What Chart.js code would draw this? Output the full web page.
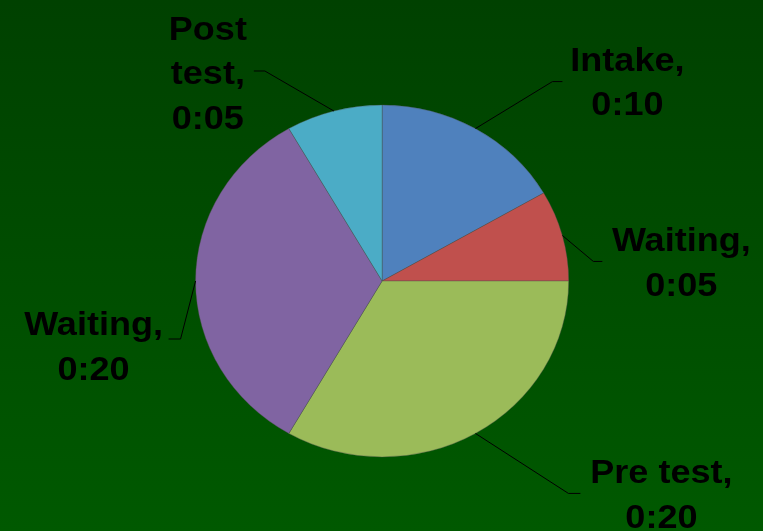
<!DOCTYPE html>
<html>
<head>
<meta charset="utf-8">
<script src="https://cdn.jsdelivr.net/npm/chart.js@4/dist/chart.umd.min.js"></script>
<style>
  html, body { margin:0; padding:0; }
  body { width:763px; height:531px; background: linear-gradient(#004100, #005900); overflow:hidden; }
  #wrap { position:relative; width:763px; height:531px; }
</style>
</head>
<body>
<div id="wrap"><canvas id="pieChart"></canvas></div>
<script>
  // chart data
  const categories = ['Intake', 'Waiting', 'Pre test', 'Waiting', 'Post test'];
  const minutes = [10, 5, 20, 20, 5];
  const durationLabels = ['0:10', '0:05', '0:20', '0:20', '0:05'];
  const sliceColors = ['#4F81BD', '#C0504D', '#9BBB59', '#8064A2', '#4BACC6'];

  // the original picture is stretched a little sideways
  const SX = 1.06;

  // leader line / text placement, relative to the slice's outer mid point
  // [elbowDx, elbowDy, hookDx, textDx, textDy]
  const labelLayout = [
    [77, -47, 10, 152, -58],
    [31, 26, 9, 119, 16],
    [93, 60, 12, 186, 50],
    [-15, 58, -12, -102, 54],
    [-69, -40, -11, -126, -71]
  ];

  function labelLines(i) {
    const words = categories[i].split(' ');
    if (i === 4) return [words[0], words[1] + ',', durationLabels[i]];
    return [categories[i] + ',', durationLabels[i]];
  }

  const stretchPlugin = {
    id: 'stretch',
    beforeDatasetsDraw(chart) { chart.ctx.save(); chart.ctx.scale(SX, 1); },
    afterDatasetsDraw(chart) { chart.ctx.restore(); }
  };

  const labelPlugin = {
    id: 'sliceLabels',
    afterDraw(chart) {
      const ctx = chart.ctx;
      const arcs = chart.getDatasetMeta(0).data;
      ctx.save();
      arcs.forEach((arc, i) => {
        const p = arc.getProps(['x', 'y', 'startAngle', 'endAngle', 'outerRadius'], true);
        const mid = (p.startAngle + p.endAngle) / 2;
        const ex = (p.x + Math.cos(mid) * p.outerRadius) * SX;
        const ey = p.y + Math.sin(mid) * p.outerRadius;
        const [edx, edy, hdx, tdx, tdy] = labelLayout[i];
        ctx.strokeStyle = '#000';
        ctx.lineWidth = 1;
        ctx.beginPath();
        ctx.moveTo(ex, ey);
        ctx.lineTo(ex + edx, ey + edy);
        ctx.lineTo(ex + edx + hdx, ey + edy);
        ctx.stroke();

        ctx.fillStyle = '#000';
        ctx.font = 'bold 34px "Liberation Sans", Arial, sans-serif';
        ctx.textAlign = 'center';
        ctx.textBaseline = 'alphabetic';
        labelLines(i).forEach((line, k) => {
          ctx.save();
          ctx.translate(ex + tdx, ey + tdy + k * 44.5);
          ctx.scale(SX, 1);
          ctx.fillText(line, 0, 0);
          ctx.restore();
        });
      });
      ctx.restore();
    }
  };

  const ctx = document.getElementById('pieChart').getContext('2d');
  new Chart(ctx, {
    type: 'pie',
    data: {
      labels: categories,
      datasets: [{
        data: minutes,
        backgroundColor: sliceColors,
        borderColor: 'rgba(80,80,80,0.45)',
        borderWidth: 0.8
      }]
    },
    options: {
      responsive: true,
      maintainAspectRatio: false,
      animation: false,
      radius: 176,
      layout: { padding: { left: 100, right: 142, top: 105, bottom: 74 } },
      plugins: { legend: { display: false }, tooltip: { enabled: false } }
    },
    plugins: [stretchPlugin, labelPlugin]
  });
</script>
</body>
</html>
